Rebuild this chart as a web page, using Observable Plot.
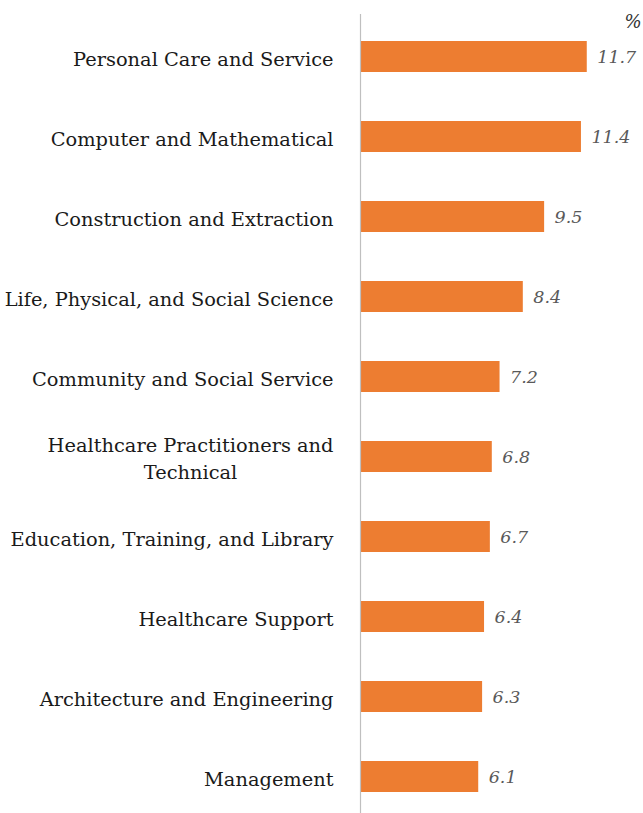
<!DOCTYPE html>
<html>
<head>
<meta charset="utf-8">
<script src="https://cdn.jsdelivr.net/npm/d3@7"></script>
<script src="https://cdn.jsdelivr.net/npm/@observablehq/plot@0.6"></script>
<style>
  body { margin: 0; background: #fff; }
  #chart svg { display: block; }
</style>
</head>
<body>
<div id="chart"></div>
<script>
const categories = [
  "Personal Care and Service",
  "Computer and Mathematical",
  "Construction and Extraction",
  "Life, Physical, and Social Science",
  "Community and Social Service",
  "Healthcare Practitioners and\nTechnical",
  "Education, Training, and Library",
  "Healthcare Support",
  "Architecture and Engineering",
  "Management"
];
const values = [11.7, 11.4, 9.5, 8.4, 7.2, 6.8, 6.7, 6.4, 6.3, 6.1];
const unitLabel = ["%"];

const data = categories.map((c, i) => ({category: c, value: values[i]}));

const serif = "'DejaVu Serif', 'Liberation Serif', serif";

const plot = Plot.plot({
  width: 643,
  height: 813,
  marginLeft: 360,
  marginRight: 1,
  marginTop: 14,
  marginBottom: 0,
  x: {domain: [0, 14.55], axis: null},
  y: {domain: categories, range: [14.3, 818.3], paddingInner: 0.615, paddingOuter: 0.3075, axis: null},
  style: {fontFamily: serif, background: "#fff"},
  marks: [
    Plot.barX(data, {x: "value", y: "category", fill: "#ED7D31"}),
    Plot.ruleX([0], {stroke: "#bfbfbf", strokeWidth: 1.2}),
    Plot.text(data, {
      x: 0, y: "category", text: "category",
      textAnchor: "end", dx: -27, fontSize: 19.4, fill: "#1a1a1a",
      lineHeight: 1.38, lineAnchor: "middle"
    }),
    Plot.text(data, {
      x: "value", y: "category", text: d => d.value.toFixed(1),
      textAnchor: "start", dx: 10, fontSize: 17.5, fill: "#595959",
      fontStyle: "italic"
    }),
    Plot.text(unitLabel, {
      frameAnchor: "top-right", text: d => d, textAnchor: "end",
      lineAnchor: "top", dy: 1, dx: -1, fontSize: 18, fontStyle: "italic",
      fill: "#333"
    })
  ]
});
document.getElementById("chart").appendChild(plot);

// center wrapped lines within their right-aligned block (like the original)
plot.querySelectorAll("text").forEach(t => {
  const spans = t.querySelectorAll("tspan");
  if (spans.length > 1) {
    const widths = Array.from(spans).map(s => s.getComputedTextLength());
    const maxW = Math.max(...widths);
    spans.forEach((s, i) => {
      s.setAttribute("x", -(maxW - widths[i]) / 2);
    });
  }
});
</script>
</body>
</html>
